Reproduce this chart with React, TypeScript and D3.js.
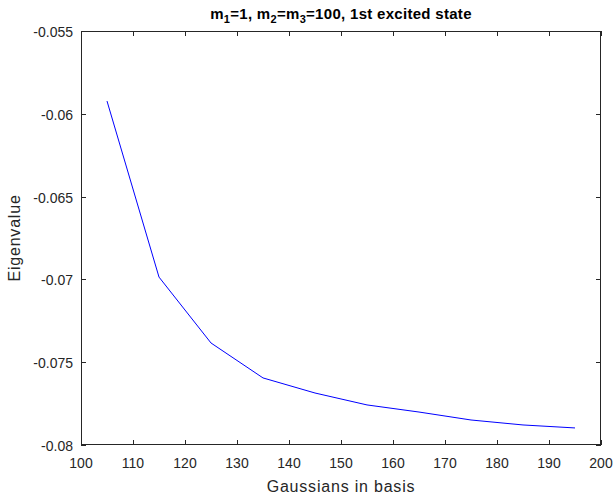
import React from "react";
import * as d3 from "d3";

const gaussians = [105, 115, 125, 135, 145, 155, 165, 175, 185, 195];
const eigenvalues = [-0.05923, -0.06986, -0.07384, -0.07595, -0.07686, -0.07758, -0.07801, -0.07849, -0.07879, -0.07897];
const xTicks = [100, 110, 120, 130, 140, 150, 160, 170, 180, 190, 200];
const yTicks = [-0.08, -0.075, -0.07, -0.065, -0.06, -0.055];
const yTickLabels = ["-0.08", "-0.075", "-0.07", "-0.065", "-0.06", "-0.055"];

const W = 614, H = 502;
const L = 81, R = 601, T = 31, B = 445;
const axisColor = "#262626";
const font = "'Liberation Sans', Arial, Helvetica, sans-serif";

export default function App() {
  const x = d3.scaleLinear().domain([100, 200]).range([L, R]);
  const y = d3.scaleLinear().domain([-0.08, -0.055]).range([B, T]);
  const line = d3.line<number>().x((_, i) => x(gaussians[i])).y((d) => y(d));
  const tl = 5;
  return (
    <svg width={W} height={H} style={{ position: "absolute", left: 0, top: 0, background: "#fff" }}>
      <rect x={0} y={0} width={W} height={H} fill="#fff" />
      <rect x={L} y={T} width={R - L} height={B - T} fill="#fff" />
      <path d={line(eigenvalues) || ""} fill="none" stroke="#0000ff" strokeWidth={1} />
      <g stroke={axisColor} strokeWidth={1} fill="none">
        <rect x={L + 0.5} y={T + 0.5} width={R - L - 1} height={B - T - 1} />
        {xTicks.map((t) => (
          <g key={"xt" + t}>
            <line x1={Math.round(x(t)) + 0.5} x2={Math.round(x(t)) + 0.5} y1={B} y2={B - tl} />
            <line x1={Math.round(x(t)) + 0.5} x2={Math.round(x(t)) + 0.5} y1={T} y2={T + tl} />
          </g>
        ))}
        {yTicks.map((t) => (
          <g key={"yt" + t}>
            <line x1={L} x2={L + tl} y1={Math.round(y(t)) + 0.5} y2={Math.round(y(t)) + 0.5} />
            <line x1={R} x2={R - tl} y1={Math.round(y(t)) + 0.5} y2={Math.round(y(t)) + 0.5} />
          </g>
        ))}
      </g>
      <g fill={axisColor} fontFamily={font} fontSize={14}>
        {xTicks.map((t) => (
          <text key={"xl" + t} x={x(t)} y={B + 23} textAnchor="middle">{t}</text>
        ))}
        {yTicks.map((t, i) => (
          <text key={"yl" + t} x={L - 8} y={y(t) + 6} textAnchor="end">{yTickLabels[i]}</text>
        ))}
        <text x={(L + R) / 2} y={492} textAnchor="middle" fontSize={16} letterSpacing={0.8}>Gaussians in basis</text>
        <text transform={`translate(19.5, ${(T + B) / 2}) rotate(-90)`} textAnchor="middle" fontSize={16} letterSpacing={0.8}>Eigenvalue</text>
      </g>
      <text x={(L + R) / 2} y={19} textAnchor="middle" fontFamily={font} fontSize={15} fontWeight="bold" fill="#000" letterSpacing={0.3}>
        m<tspan fontSize={11} dy={4}>1</tspan>
        <tspan dy={-4}>=1, m</tspan>
        <tspan fontSize={11} dy={4}>2</tspan>
        <tspan dy={-4}>=m</tspan>
        <tspan fontSize={11} dy={4}>3</tspan>
        <tspan dy={-4}>=100, 1st excited state</tspan>
      </text>
    </svg>
  );
}
